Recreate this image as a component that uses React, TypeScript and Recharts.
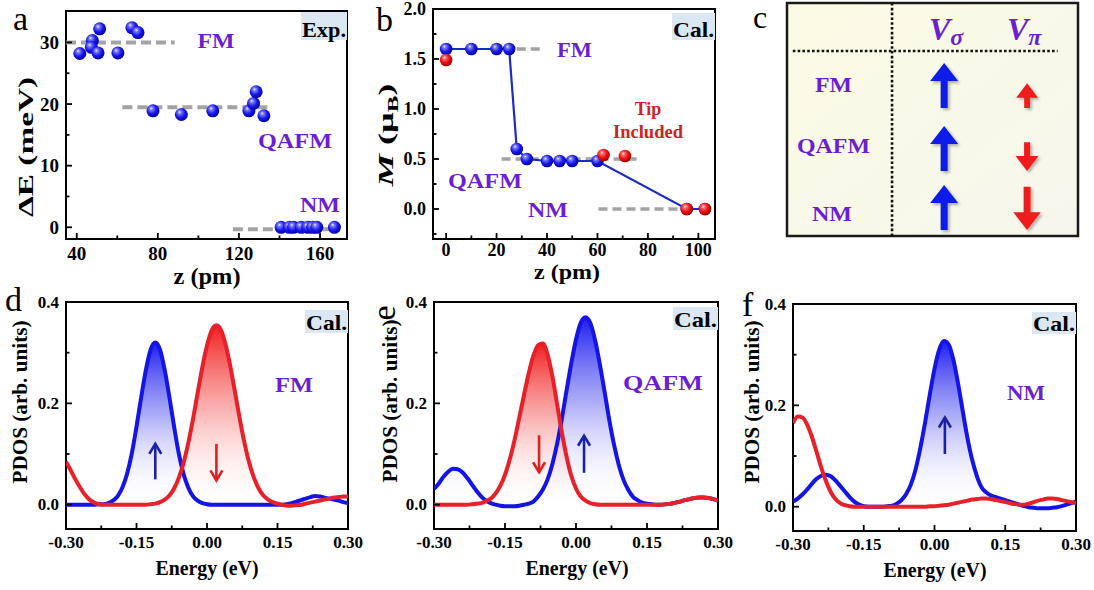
import React from "react";
import {
  ComposedChart,
  ScatterChart,
  Scatter,
  Line,
  Area,
  XAxis,
  YAxis,
  ReferenceLine,
  ReferenceArea,
} from "recharts";

const SERIF = '"Liberation Serif", Tinos, "Times New Roman", Times, serif';
const PURPLE = "#6b1fd4";
const BLUE = "#1414e6";
const RED = "#e8202a";
const GREY = "#a3a3a3";
const ARROW_BLUE = "#1c22a8";
const ARROW_RED = "#e02020";

// ---- a: measured exchange energy vs tip height
const zExp = [41.5, 47.7, 47.2, 50.5, 51.3, 60.3, 67.2, 70.2, 77.6, 91.6, 107.1, 124.9, 127.2, 128.5, 132.3, 140.8, 144.9, 146.9, 150.7, 154.0, 156.4, 158.4, 167.1];
const dEExp = [28.2, 30.3, 29.2, 28.3, 32.2, 28.3, 32.4, 31.6, 18.9, 18.3, 18.9, 18.9, 20.1, 22.0, 18.1, 0, 0, 0, 0, 0, 0, 0, 0];
const levelNames = ["FM", "QAFM", "NM"];
const levelExp = [30, 19.5, -0.3];
const levelExpFrom = [34.7, 62.5, 117];
const levelExpTo = [88.3, 135.9, 169.6];

// ---- b: calculated moment vs tip height
const zCalc = [0, 10, 20, 25, 28, 32, 40, 45, 50, 60, 95.4, 102.6];
const mCalc = [1.6, 1.6, 1.6, 1.6, 0.6, 0.5, 0.48, 0.48, 0.48, 0.48, 0, 0];
const zTip = [0, 62.4, 70.9, 95.4, 102.6];
const mTip = [1.49, 0.54, 0.53, 0, 0];
const levelCalc = [1.6, 0.5, 0];
const levelCalcFrom = [28, 22, 60.4];
const levelCalcTo = [37.9, 75.6, 94];

// ---- c: spin orientation table
const stateNames = ["FM", "QAFM", "NM"];
const spinSigma = [1, 1, 1];
const spinPi = [0.55, -0.64, -0.96];

// ---- d-f: PDOS
const energy = [
  -0.3, -0.29, -0.28, -0.27, -0.26, -0.25, -0.24, -0.23, -0.22, -0.21,
  -0.2, -0.19, -0.18, -0.17, -0.16, -0.15, -0.14, -0.13, -0.12, -0.11,
  -0.1, -0.09, -0.08, -0.07, -0.06, -0.05, -0.04, -0.03, -0.02, -0.01,
  0, 0.01, 0.02, 0.03, 0.04, 0.05, 0.06, 0.07, 0.08, 0.09,
  0.1, 0.11, 0.12, 0.13, 0.14, 0.15, 0.16, 0.17, 0.18, 0.19,
  0.2, 0.21, 0.22, 0.23, 0.24, 0.25, 0.26, 0.27, 0.28, 0.29,
  0.3,
];
const upFM = [
  0, 0, 0, 0, 0, 0, 0, 0.001, 0.001, 0.003,
  0.008, 0.017, 0.034, 0.061, 0.101, 0.154, 0.212, 0.266, 0.306, 0.32,
  0.306, 0.266, 0.212, 0.154, 0.101, 0.061, 0.034, 0.017, 0.008, 0.003,
  0.001, 0, 0, 0, 0, 0, 0, 0, 0, 0,
  0, 0, 0, 0, 0, 0, 0, 0.001, 0.003, 0.006,
  0.009, 0.012, 0.015, 0.017, 0.016, 0.014, 0.012, 0.01, 0.008, 0.005,
  0.003,
];
const downFM = [
  0.085, 0.068, 0.05, 0.034, 0.02, 0.01, 0.004, 0.001, 0, 0,
  0, 0, 0, 0, 0, 0, 0, 0, 0.001, 0.002,
  0.005, 0.01, 0.018, 0.032, 0.053, 0.082, 0.121, 0.168, 0.22, 0.271,
  0.314, 0.344, 0.354, 0.344, 0.314, 0.271, 0.22, 0.168, 0.121, 0.082,
  0.053, 0.032, 0.018, 0.01, 0.005, 0.002, 0, -0.002, -0.002, -0.001,
  0, 0.002, 0.004, 0.006, 0.008, 0.01, 0.012, 0.014, 0.015, 0.016,
  0.016,
];
const upQAFM = [
  0.031, 0.042, 0.055, 0.065, 0.071, 0.07, 0.064, 0.053, 0.04, 0.027,
  0.016, 0.008, 0.003, 0, -0.002, -0.003, -0.003, -0.003, -0.002, 0,
  0.002, 0.006, 0.016, 0.03, 0.05, 0.08, 0.12, 0.169, 0.225, 0.279,
  0.326, 0.359, 0.37, 0.359, 0.326, 0.279, 0.225, 0.169, 0.12, 0.08,
  0.05, 0.03, 0.016, 0.009, 0.004, 0.002, 0.001, 0, 0, 0.001,
  0.002, 0.004, 0.006, 0.009, 0.011, 0.013, 0.014, 0.014, 0.013, 0.011,
  0.008,
];
const downQAFM = [
  0, 0, 0, 0, 0, 0, 0, 0, 0.001, 0.002,
  0.003, 0.007, 0.012, 0.022, 0.037, 0.059, 0.089, 0.127, 0.171, 0.216,
  0.259, 0.294, 0.315, 0.318, 0.296, 0.254, 0.199, 0.143, 0.095, 0.057,
  0.032, 0.016, 0.008, 0.003, 0.001, 0, 0, 0, 0, 0,
  0, 0, 0, 0, 0, 0, 0, 0, 0, 0.001,
  0.002, 0.004, 0.006, 0.009, 0.011, 0.013, 0.014, 0.014, 0.013, 0.011,
  0.008,
];
const upNM = [
  0.01, 0.016, 0.024, 0.034, 0.045, 0.055, 0.061, 0.063, 0.06, 0.052,
  0.041, 0.03, 0.019, 0.01, 0.004, 0.001, 0, 0, 0, 0,
  0.001, 0.002, 0.006, 0.013, 0.025, 0.044, 0.074, 0.116, 0.166, 0.221,
  0.272, 0.31, 0.327, 0.32, 0.29, 0.243, 0.188, 0.135, 0.092, 0.06,
  0.038, 0.028, 0.022, 0.019, 0.016, 0.013, 0.01, 0.007, 0.004, 0.001,
  -0.001, -0.002, -0.003, -0.003, -0.003, -0.002, -0.001, 0.001, 0.004, 0.007,
  0.01,
];
const downNM = [
  0.165, 0.178, 0.176, 0.162, 0.138, 0.108, 0.077, 0.05, 0.029, 0.015,
  0.007, 0.003, 0.001, 0, 0, 0, 0, 0, 0, 0,
  0, 0, 0, 0, 0, 0, 0, 0, 0, 0.001,
  0.001, 0.002, 0.003, 0.004, 0.006, 0.008, 0.01, 0.012, 0.014, 0.015,
  0.016, 0.016, 0.015, 0.013, 0.011, 0.009, 0.007, 0.005, 0.004, 0.004,
  0.006, 0.009, 0.012, 0.014, 0.016, 0.016, 0.015, 0.013, 0.011, 0.009,
  0.007,
];
// spin arrows drawn inside the PDOS panels
const arrowEnergyFM = [-0.11, 0.02];
const arrowFromFM = [0.05, 0.12];
const arrowToFM = [0.12, 0.048];
const arrowEnergyQAFM = [-0.078, 0.017];
const arrowFromQAFM = [0.137, 0.063];
const arrowToQAFM = [0.064, 0.136];
const arrowEnergyNM = [0.022];
const arrowFromNM = [0.104];
const arrowToNM = [0.176];

const pdosXMajor = [-0.3, -0.15, 0, 0.15, 0.3];
const pdosXMinor = [-0.225, -0.075, 0.075, 0.225];
const pdosYMajor = [0, 0.2, 0.4];
const pdosYMinor = [0.1, 0.3];
const PDOS_Y: [number, number] = [-0.048, 0.4];

const makeTick =
  (side: "x" | "y", majors: number[], digits: number, size: number, gap = 2) =>
  (p: any) => {
    const v = Number(p.payload.value);
    const major = majors.some((m) => Math.abs(m - v) < 1e-9);
    const len = major ? 6 : 3.5;
    const label = v.toFixed(digits);
    if (side === "x") {
      return (
        <g>
          <line x1={p.x} y1={p.y} x2={p.x} y2={p.y - len} stroke="#000" strokeWidth={1.8} />
          {major && (
            <text x={p.x} y={p.y + size + gap} textAnchor="middle" fontFamily={SERIF} fontWeight="bold" fontSize={size} fill="#000">
              {label}
            </text>
          )}
        </g>
      );
    }
    return (
      <g>
        <line x1={p.x} y1={p.y} x2={p.x + len} y2={p.y} stroke="#000" strokeWidth={1.8} />
        {major && (
          <text x={p.x - 7} y={p.y + size * 0.34} textAnchor="end" fontFamily={SERIF} fontWeight="bold" fontSize={size} fill="#000">
            {label}
          </text>
        )}
      </g>
    );
  };

const ball = (grad: string, r: number) => (p: any) =>
  <circle key={`b${p.index}`} cx={p.cx} cy={p.cy} r={r} fill={`url(#${grad})`} />;

const arrowDot = (color: string, up: boolean) => (p: any) => {
  if (p.index !== 1) return <g key={`t${p.index}`} />;
  const d = up ? 1 : -1;
  return (
    <polyline
      key="head"
      points={`${p.cx - 6},${p.cy + d * 10} ${p.cx},${p.cy} ${p.cx + 6},${p.cy + d * 10}`}
      fill="none"
      stroke={color}
      strokeWidth={2.6}
    />
  );
};

// thick block arrow for panel c, sits on its row base
const blockArrow = (color: string) => (p: any) => {
  const s = p.payload.spin;
  const k = Math.abs(s);
  const L = 45 * k;
  const hw = 14 * (0.5 + 0.5 * k);
  const hl = 18 * (0.55 + 0.45 * k);
  const sw = 3.5 * (0.6 + 0.4 * k);
  const up = s > 0;
  const cx = p.cx;
  const tipY = up ? p.cy - L : p.cy;
  const tailY = up ? p.cy : p.cy - L;
  const baseY = tipY + (up ? hl : -hl);
  const d = `M${cx},${tipY} L${cx + hw},${baseY} L${cx + sw},${baseY} L${cx + sw},${tailY} L${cx - sw},${tailY} L${cx - sw},${baseY} L${cx - hw},${baseY} Z`;
  return <path d={d} fill={color} filter="url(#arrowShadow)" />;
};

type PdosProps = {
  left: number;
  top: number;
  width: number;
  margin: { top: number; right: number; bottom: number; left: number };
  up: number[];
  down: number[];
  fillUp: boolean;
  fillDown: boolean;
  arrowE: number[];
  arrowFrom: number[];
  arrowTo: number[];
};

function PdosPanel(props: PdosProps) {
  const { left, top, width, margin, up, down, fillUp, fillDown, arrowE, arrowFrom, arrowTo } = props;
  const rows = energy.map((e, i) => ({ e, up: up[i], down: down[i] }));
  return (
    <div style={{ position: "absolute", left, top }}>
      <ComposedChart width={width} height={300} margin={margin} data={rows}>
        <XAxis
          dataKey="e"
          type="number"
          domain={[-0.3, 0.3]}
          allowDataOverflow
          ticks={[...pdosXMajor, ...pdosXMinor].sort((a, b) => a - b)}
          interval={0}
          tick={makeTick("x", pdosXMajor, 2, 17)}
          tickLine={false}
          axisLine={false}
          tickSize={0}
          tickMargin={0}
          height={30}
        />
        <YAxis
          type="number"
          domain={PDOS_Y}
          allowDataOverflow
          ticks={[...pdosYMajor, ...pdosYMinor].sort((a, b) => a - b)}
          interval={0}
          tick={makeTick("y", pdosYMajor, 1, 17)}
          tickLine={false}
          axisLine={false}
          tickSize={0}
          tickMargin={0}
          width={50}
        />
        {fillUp && <Area type="monotone" dataKey="up" stroke="none" fill="url(#fillBlue)" fillOpacity={1} isAnimationActive={false} />}
        {fillDown && <Area type="monotone" dataKey="down" stroke="none" fill="url(#fillRed)" fillOpacity={1} isAnimationActive={false} />}
        <Line type="monotone" dataKey="up" stroke={BLUE} strokeWidth={4} dot={false} activeDot={false} isAnimationActive={false} />
        <Line type="monotone" dataKey="down" stroke={RED} strokeWidth={4} dot={false} activeDot={false} isAnimationActive={false} />
        {arrowE.map((e, i) => {
          const upward = arrowTo[i] > arrowFrom[i];
          const c = upward ? ARROW_BLUE : ARROW_RED;
          return (
            <Line
              key={`arr${i}`}
              data={[
                { e, v: arrowFrom[i] },
                { e, v: arrowTo[i] },
              ]}
              dataKey="v"
              type="linear"
              stroke={c}
              strokeWidth={2.6}
              dot={arrowDot(c, upward)}
              activeDot={false}
              isAnimationActive={false}
            />
          );
        })}
        <ReferenceArea x1={-0.3} x2={0.3} y1={PDOS_Y[0]} y2={PDOS_Y[1]} fill="none" stroke="#000" strokeWidth={2} ifOverflow="visible" />
      </ComposedChart>
    </div>
  );
}

function PanelA() {
  const pts = zExp.map((x, i) => ({ x, y: dEExp[i] }));
  const xDom: [number, number] = [34.7, 173.3];
  const yDom: [number, number] = [-1.9, 35.1];
  return (
    <div style={{ position: "absolute", left: 0, top: 0 }}>
      <ComposedChart width={370} height={290} margin={{ top: 11, right: 23, bottom: 21, left: 16 }}>
        <XAxis dataKey="x" type="number" domain={xDom} allowDataOverflow ticks={[40, 60, 80, 100, 120, 140, 160]} interval={0}
          tick={makeTick("x", [40, 80, 120, 160], 0, 19)} tickLine={false} axisLine={false} tickSize={0} tickMargin={0} height={30} />
        <YAxis dataKey="y" type="number" domain={yDom} allowDataOverflow ticks={[0, 5, 10, 15, 20, 25, 30]} interval={0}
          tick={makeTick("y", [0, 10, 20, 30], 0, 19)} tickLine={false} axisLine={false} tickSize={0} tickMargin={0} width={50} />
        {levelNames.map((n, i) => (
          <ReferenceLine key={n} segment={[{ x: levelExpFrom[i], y: levelExp[i] }, { x: levelExpTo[i], y: levelExp[i] }]}
            stroke={GREY} strokeWidth={4} strokeDasharray="10 5" />
        ))}
        <Scatter data={pts} shape={ball("ballBlue", 6.5)} isAnimationActive={false} />
        <ReferenceArea x1={xDom[0]} x2={xDom[1]} y1={yDom[0]} y2={yDom[1]} fill="none" stroke="#000" strokeWidth={2} ifOverflow="visible" />
      </ComposedChart>
    </div>
  );
}

function PanelB() {
  const calc = zCalc.map((x, i) => ({ x, y: mCalc[i] }));
  const tip = zTip.map((x, i) => ({ x, y: mTip[i] }));
  const xDom: [number, number] = [-5.2, 106.6];
  const yDom: [number, number] = [-0.3, 2.0];
  return (
    <div style={{ position: "absolute", left: 370, top: 0 }}>
      <ComposedChart width={360} height={290} margin={{ top: 9, right: 15, bottom: 21, left: 13 }}>
        <XAxis dataKey="x" type="number" domain={xDom} allowDataOverflow ticks={[0, 10, 20, 30, 40, 50, 60, 70, 80, 90, 100]} interval={0}
          tick={makeTick("x", [0, 20, 40, 60, 80, 100], 0, 18, -1)} tickLine={false} axisLine={false} tickSize={0} tickMargin={0} height={30} />
        <YAxis dataKey="y" type="number" domain={yDom} allowDataOverflow ticks={[-0.25, 0, 0.25, 0.5, 0.75, 1, 1.25, 1.5, 1.75, 2]} interval={0}
          tick={makeTick("y", [0, 0.5, 1, 1.5, 2], 1, 18)} tickLine={false} axisLine={false} tickSize={0} tickMargin={0} width={50} />
        {levelNames.map((n, i) => (
          <ReferenceLine key={n} segment={[{ x: levelCalcFrom[i], y: levelCalc[i] }, { x: levelCalcTo[i], y: levelCalc[i] }]}
            stroke={GREY} strokeWidth={3.5} strokeDasharray="9 5" />
        ))}
        <Line data={calc} dataKey="y" type="linear" stroke="#1b2bc4" strokeWidth={2.2} dot={ball("ballBlue", 6.3)} activeDot={false} isAnimationActive={false} />
        <Scatter data={tip} shape={ball("ballRed", 6.3)} isAnimationActive={false} />
        <ReferenceArea x1={xDom[0]} x2={xDom[1]} y1={yDom[0]} y2={yDom[1]} fill="none" stroke="#000" strokeWidth={2} ifOverflow="visible" />
      </ComposedChart>
    </div>
  );
}

function PanelC() {
  // layout of the table (fractions of the box)
  const ROW_BASE = [0.451, 0.721, 0.974];
  const COL_SIGMA = 0.54;
  const COL_PI = 0.825;
  const sigmaPts = stateNames.map((_, i) => ({ col: COL_SIGMA, row: ROW_BASE[i], spin: spinSigma[i] }));
  const piPts = stateNames.map((_, i) => ({ col: COL_PI, row: ROW_BASE[i], spin: spinPi[i] }));
  return (
    <div style={{ position: "absolute", left: 785, top: 1 }}>
      <ScatterChart width={295} height={237} margin={{ top: 2, right: 2, bottom: 2, left: 2 }}>
        <XAxis dataKey="col" type="number" domain={[0, 1]} hide />
        <YAxis dataKey="row" type="number" domain={[0, 1]} reversed hide />
        <ReferenceArea x1={0} x2={1} y1={0} y2={1} fill="url(#cBg)" fillOpacity={1} stroke="#1a1a1a" strokeWidth={2.5} ifOverflow="visible" />
        <ReferenceLine x={0.361} stroke="#111" strokeWidth={2.6} strokeDasharray="2.6 2.2" />
        <ReferenceLine segment={[{ x: 0.02, y: 0.206 }, { x: 0.93, y: 0.206 }]} stroke="#111" strokeWidth={2.6} strokeDasharray="2.6 2.2" />
        <Scatter data={sigmaPts} shape={blockArrow("#0a1ee8")} isAnimationActive={false} />
        <Scatter data={piPts} shape={blockArrow("#ee1c1c")} isAnimationActive={false} />
      </ScatterChart>
    </div>
  );
}

const Txt = (p: {
  x: number; y: number; children: React.ReactNode; size?: number; w?: number; color?: string;
  anchor?: "start" | "middle" | "end"; weight?: string; rot?: number;
}) => (
  <text
    x={p.x}
    y={p.y}
    fontSize={p.size ?? 22}
    fontFamily={SERIF}
    fontWeight={p.weight ?? "bold"}
    fill={p.color ?? "#000"}
    textAnchor={p.anchor ?? "middle"}
    textLength={p.w}
    lengthAdjust={p.w ? "spacingAndGlyphs" : undefined}
    transform={p.rot ? `rotate(${p.rot} ${p.x} ${p.y})` : undefined}
  >
    {p.children}
  </text>
);

const TagBox = ({ x, y, w, h, text }: { x: number; y: number; w: number; h: number; text: string }) => (
  <g>
    <rect x={x} y={y} width={w} height={h} fill="#dbe7f3" />
    <Txt x={x + w / 2} y={y + h - 3} size={22} w={w - 2}>{text}</Txt>
  </g>
);

function Overlay() {
  return (
    <svg width={1094} height={590} style={{ position: "absolute", left: 0, top: 0, pointerEvents: "none" }}>
      {/* a */}
      <Txt x={13} y={30} size={34} weight="normal" anchor="start">a</Txt>
      <Txt x={33} y={147} size={22} w={140} rot={-90}>ΔE (meV)</Txt>
      <Txt x={207} y={284} size={24} w={67}>z (pm)</Txt>
      <Txt x={216} y={48} color={PURPLE} w={37}>FM</Txt>
      <Txt x={295} y={148} color={PURPLE} w={74}>QAFM</Txt>
      <Txt x={320} y={212} color={PURPLE} w={40}>NM</Txt>
      <TagBox x={301} y={12} w={46} h={28} text="Exp." />
      {/* b */}
      <Txt x={376} y={31} size={34} weight="normal" anchor="start">b</Txt>
      <text x={393} y={135} transform="rotate(-90 393 135)" textAnchor="middle" fontSize={22} fontWeight="bold"
        fontFamily={SERIF} textLength={103} lengthAdjust="spacingAndGlyphs">
        <tspan fontStyle="italic">M</tspan> (μ<tspan fontSize={15} dy={5}>B</tspan><tspan dy={-5}>)</tspan>
      </text>
      <Txt x={567} y={279} size={22} w={66}>z (pm)</Txt>
      <Txt x={574.5} y={57} color={PURPLE} w={35}>FM</Txt>
      <Txt x={485} y={188} color={PURPLE} w={74}>QAFM</Txt>
      <Txt x={548} y={217} color={PURPLE} w={40}>NM</Txt>
      <Txt x={648} y={115} color="#d42020" size={18}>Tip</Txt>
      <Txt x={648} y={138} color="#d42020" size={18} w={70}>Included</Txt>
      <TagBox x={672} y={13} w={43} h={27} text="Cal." />
      {/* c */}
      <Txt x={753} y={28} size={32} weight="normal" anchor="start">c</Txt>
      <text x={929} y={40} fill={PURPLE} fontFamily={SERIF} fontWeight="bold" fontStyle="italic">
        <tspan fontSize={32}>V</tspan>
        <tspan fontSize={24} dy={5}>σ</tspan>
      </text>
      <text x={1007} y={40} fill={PURPLE} fontFamily={SERIF} fontWeight="bold" fontStyle="italic">
        <tspan fontSize={32}>V</tspan>
        <tspan fontSize={24} dy={5}>π</tspan>
      </text>
      <Txt x={833.5} y={92} color={PURPLE} w={37}>FM</Txt>
      <Txt x={833.5} y={153} color={PURPLE} w={73}>QAFM</Txt>
      <Txt x={832} y={221} color={PURPLE} w={40}>NM</Txt>
      {/* d */}
      <Txt x={5} y={311} size={34} weight="normal" anchor="start">d</Txt>
      <Txt x={27} y={402} size={20} w={163} rot={-90}>PDOS (arb. units)</Txt>
      <Txt x={207} y={575} size={20} w={103}>Energy (eV)</Txt>
      <Txt x={294} y={392} color={PURPLE} w={38}>FM</Txt>
      <TagBox x={305} y={310} w={43} h={23} text="Cal." />
      {/* e */}
      <Txt x={395} y={313} size={34} weight="normal" rot={-90}>e</Txt>
      <Txt x={397} y={401} size={20} w={163} rot={-90}>PDOS (arb. units)</Txt>
      <Txt x={577} y={575} size={20} w={103}>Energy (eV)</Txt>
      <Txt x={663} y={390} color={PURPLE} w={80}>QAFM</Txt>
      <TagBox x={673} y={307} w={45} h={23} text="Cal." />
      {/* f */}
      <Txt x={742} y={316} size={34} weight="normal" anchor="start">f</Txt>
      <Txt x={759} y={402} size={20} w={163} rot={-90}>PDOS (arb. units)</Txt>
      <Txt x={935} y={577} size={20} w={103}>Energy (eV)</Txt>
      <Txt x={1026} y={400} color={PURPLE} w={38}>NM</Txt>
      <TagBox x={1032} y={312} w={44} h={22} text="Cal." />
    </svg>
  );
}

function Defs() {
  return (
    <svg width={0} height={0} style={{ position: "absolute", left: 0, top: 0 }}>
      <defs>
        <linearGradient id="fillBlue" x1="0" y1="0" x2="0" y2="1">
          <stop offset="0" stopColor="#1010f0" stopOpacity={0.95} />
          <stop offset="0.45" stopColor="#6a6af2" stopOpacity={0.55} />
          <stop offset="1" stopColor="#ffffff" stopOpacity={0} />
        </linearGradient>
        <linearGradient id="fillRed" x1="0" y1="0" x2="0" y2="1">
          <stop offset="0" stopColor="#f01212" stopOpacity={0.95} />
          <stop offset="0.45" stopColor="#f56a6a" stopOpacity={0.55} />
          <stop offset="1" stopColor="#fff4ec" stopOpacity={0} />
        </linearGradient>
        <radialGradient id="ballBlue" cx="0.42" cy="0.4" r="0.6" fx="0.36" fy="0.3">
          <stop offset="0" stopColor="#f2f2ff" />
          <stop offset="0.2" stopColor="#8080ff" />
          <stop offset="0.6" stopColor="#1a1af0" />
          <stop offset="1" stopColor="#0000a0" />
        </radialGradient>
        <radialGradient id="ballRed" cx="0.42" cy="0.4" r="0.6" fx="0.36" fy="0.3">
          <stop offset="0" stopColor="#fff0f0" />
          <stop offset="0.2" stopColor="#ff7070" />
          <stop offset="0.6" stopColor="#ee1010" />
          <stop offset="1" stopColor="#a00000" />
        </radialGradient>
        <linearGradient id="cBg" x1="0" y1="0" x2="1" y2="1">
          <stop offset="0" stopColor="#fbfbe4" />
          <stop offset="1" stopColor="#f6f6ee" />
        </linearGradient>
        <filter id="arrowShadow" x="-30%" y="-30%" width="160%" height="160%">
          <feDropShadow dx="2" dy="2" stdDeviation="1.5" floodColor="#000" floodOpacity={0.3} />
        </filter>
      </defs>
    </svg>
  );
}

export default function App() {
  return (
    <div style={{ position: "absolute", left: 0, top: 0, width: 1094, height: 590, background: "#fff", overflow: "hidden" }}>
      <Defs />
      <PanelA />
      <PanelB />
      <PanelC />
      <PdosPanel left={0} top={290} width={370} margin={{ top: 12, right: 22, bottom: 31, left: 16 }}
        up={upFM} down={downFM} fillUp fillDown arrowE={arrowEnergyFM} arrowFrom={arrowFromFM} arrowTo={arrowToFM} />
      <PdosPanel left={370} top={290} width={376} margin={{ top: 12, right: 28, bottom: 31, left: 14 }}
        up={upQAFM} down={downQAFM} fillUp fillDown arrowE={arrowEnergyQAFM} arrowFrom={arrowFromQAFM} arrowTo={arrowToQAFM} />
      <PdosPanel left={730} top={290} width={364} margin={{ top: 14, right: 18, bottom: 29, left: 13 }}
        up={upNM} down={downNM} fillUp fillDown={false} arrowE={arrowEnergyNM} arrowFrom={arrowFromNM} arrowTo={arrowToNM} />
      <Overlay />
    </div>
  );
}
